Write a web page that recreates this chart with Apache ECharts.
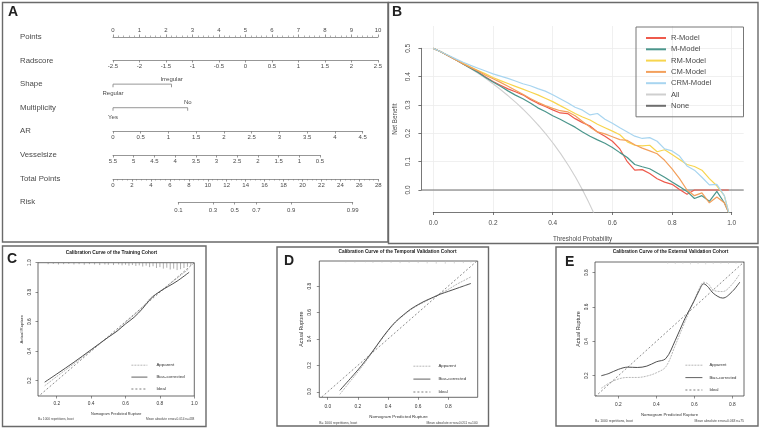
<!DOCTYPE html>
<html><head><meta charset="utf-8">
<script src="https://cdn.jsdelivr.net/npm/echarts@6.0.0/dist/echarts.min.js"></script>
<style>html,body{margin:0;padding:0;background:#fff;}#chart{width:761px;height:429px;}</style>
</head><body><div id="chart"></div>
<script>
// ---------- Panel A: nomogram ----------
const nomoRows = ['Points','Radscore','Shape','Multiplicity','AR','Vesselsize','Total Points','Risk'];
const pointsScale = [0, 10, 1];
const radscoreScale = [-2.5, 2.5, 0.5];
const arScale = [0, 4.5, 0.5];
const vesselScale = [0.5, 5.5, 0.5];
const totalScale = [0, 28, 2];
const shapeLevels = ['Regular', 'Irregular'];
const shapePoints = [0, 2.21];
const multiLevels = ['Yes', 'No'];
const multiPoints = [0, 2.82];
const riskTicks = [0.1, 0.3, 0.5, 0.7, 0.9, 0.99];

// ---------- Panel B: decision curves ----------
const dcaNames = ['R-Model','M-Model','RM-Model','CM-Model','CRM-Model','All','None'];
const dcaThresholds = [0,0.025,0.05,0.075,0.1,0.125,0.15,0.175,0.2,0.225,0.25,0.275,0.3,0.325,0.35,0.375,0.4,0.425,0.45,0.475,0.5,0.525,0.55,0.575,0.6,0.625,0.65,0.675,0.7,0.725,0.75,0.775,0.8,0.825,0.85,0.875,0.9,0.925,0.95,0.975,0.99];
const rModel = [.5,.488,.474,.460,.445,.431,.417,.399,.383,.370,.357,.347,.336,.320,.306,.295,.283,.272,.270,.252,.238,.226,.205,.190,.172,.145,.100,.070,.072,.058,.040,.028,.020,.002,-.015,0,0,0,0,0,0];
const mModel = [.5,.488,.474,.460,.445,.430,.415,.397,.381,.366,.350,.335,.322,.307,.290,.277,.262,.250,.236,.222,.205,.190,.177,.165,.150,.132,.115,.090,.082,.075,.060,.045,.028,.012,-.005,-.030,-.020,-.040,-.005,-.045,-.080];
const rmModel = [.5,.488,.475,.461,.447,.434,.422,.410,.397,.386,.376,.366,.356,.346,.336,.324,.312,.298,.284,.270,.258,.247,.232,.220,.208,.195,.170,.158,.156,.158,.135,.142,.125,.108,.090,.083,.070,.040,.015,-.020,-.080];
const cmModel = [.5,.488,.474,.460,.446,.433,.420,.405,.393,.380,.366,.352,.338,.323,.310,.298,.288,.280,.276,.262,.242,.222,.205,.198,.188,.178,.175,.160,.148,.138,.128,.105,.075,.040,.000,-.020,-.010,-.045,-.025,-.045,-.080];
const crmModel = [.5,.488,.476,.463,.451,.440,.430,.420,.410,.402,.394,.385,.375,.368,.358,.349,.336,.322,.308,.292,.282,.265,.270,.250,.236,.220,.205,.190,.182,.185,.172,.145,.138,.120,.085,.070,.045,.018,.020,-.020,-.080];
const allThresholds = [0,0.05,0.1,0.15,0.2,0.25,0.3,0.35,0.4,0.45,0.5,0.55];
const allModel = [.5,.474,.444,.412,.375,.333,.286,.231,.167,.091,0,-.111];
const noneThresholds = [-0.04, 1.04];
const noneModel = [0, 0];
const dcaXTicks = [0, 1, 0.2];
const dcaYTicks = [0, 0.5, 0.1];

// ---------- Panels C, D, E: calibration ----------
const calNames = ['Apparent', 'Bias-corrected', 'Ideal'];
const calCx = [0.13,0.2,0.3,0.4,0.5,0.55,0.6,0.65,0.7,0.75,0.8,0.85,0.9,0.97];
const calCapp = [0.165,0.228,0.315,0.405,0.495,0.54,0.595,0.645,0.7,0.765,0.805,0.85,0.895,0.96];
const calCbias = [0.19,0.245,0.325,0.41,0.495,0.535,0.585,0.63,0.69,0.76,0.805,0.84,0.875,0.935];
const calCideal = [0, 1];
const calCrug = [[0.15,.01],[0.18,.008],[0.21,.012],[0.24,.01],[0.27,.008],[0.3,.012],[0.33,.01],[0.36,.014],[0.39,.01],[0.42,.012],[0.45,.016],[0.48,.012],[0.5,.014],[0.53,.016],[0.56,.012],[0.58,.018],[0.6,.014],[0.62,.02],[0.64,.016],[0.66,.022],[0.68,.018],[0.7,.026],[0.72,.02],[0.74,.03],[0.76,.024],[0.78,.036],[0.8,.03],[0.82,.04],[0.84,.034],[0.86,.046],[0.88,.04],[0.9,.05],[0.92,.044],[0.94,.036],[0.96,.028],[0.98,.02]];
const calCticks = [0.2,0.4,0.6,0.8,1.0];
const calCnote = ['B= 1000 repetitions, boot', 'Mean absolute error=0.014 n=438'];

const calDx = [0.08,0.15,0.2,0.25,0.3,0.35,0.4,0.45,0.5,0.55,0.6,0.65,0.7,0.75,0.8,0.85,0.9,0.95];
const calDapp = [-0.02,0.08,0.15,0.225,0.305,0.385,0.46,0.525,0.575,0.62,0.655,0.685,0.715,0.745,0.775,0.81,0.84,0.87];
const calDbias = [0.01,0.1,0.165,0.235,0.31,0.39,0.465,0.53,0.58,0.625,0.66,0.69,0.715,0.74,0.76,0.78,0.8,0.82];
const calDideal = [-0.1, 1];
const calDrug = [[0.12,.01],[0.18,.012],[0.25,.01],[0.3,.014],[0.36,.012],[0.42,.014],[0.48,.016],[0.54,.014],[0.6,.016],[0.66,.018],[0.72,.02],[0.78,.02],[0.84,.018],[0.9,.016],[0.95,.012]];
const calDticks = [0,0.2,0.4,0.6,0.8];
const calDnote = ['B= 1000 repetitions, boot', 'Mean absolute error=0.051 n=100'];

const calEx = [0.11,0.15,0.2,0.25,0.3,0.35,0.4,0.45,0.5,0.55,0.6,0.625,0.65,0.675,0.7,0.75,0.8,0.84];
const calEapp = [0.127,0.156,0.181,0.19,0.19,0.198,0.217,0.252,0.377,0.512,0.64,0.704,0.744,0.733,0.698,0.69,0.733,0.794];
const calEbias = [0.2,0.213,0.237,0.25,0.248,0.256,0.281,0.3,0.406,0.531,0.637,0.694,0.735,0.714,0.68,0.652,0.69,0.745];
const calEideal = [0, 1];
const calErug = [[0.46,.01],[0.5,.012],[0.54,.01],[0.58,.014],[0.62,.012],[0.66,.014],[0.7,.012],[0.74,.01],[0.78,.012],[0.82,.01]];
const calEticks = [0.2,0.4,0.6,0.8];
const calEnote = ['B= 1000 repetitions, boot', 'Mean absolute error=0.063 n=75'];

const panelTitles = ['Calibration Curve of the Training Cohort', 'Calibration Curve of the Temporal Validation Cohort', 'Calibration Curve of the External Validation Cohort'];

// ---------- build ----------
const FONT = "'Liberation Sans', Arial, Helvetica, sans-serif";
const AX = '#7c7c7c', TX = '#4a4a4a';
const logit = p => Math.log(p / (1 - p));
const pairs = (xs, ys) => xs.map((x, i) => [x, ys[i]]);

function g(o) { return Object.assign({outerBoundsMode: 'none', containLabel: false}, o); }
const grids = [
  g({left:113, right:383, top:25.2, bottom:215.2}),            // 0 nomogram rows
  g({left:113, right:383, top:37, height:1}),                  // 1 points
  g({left:113, right:383, top:59, height:1}),                  // 2 radscore
  g({left:113, right:398.3, top:130, height:1}),               // 3 AR
  g({left:113, right:441, top:154, height:1}),                 // 4 vessel
  g({left:113, right:382.7, top:178, height:1}),               // 5 total
  g({left:178.3, right:408.3, top:201, height:1}),             // 6 risk
  g({left:421.4, right:17.3, top:26, bottom:217}),             // 7 dca data
  g({left:433.3, right:29.3, top:26, bottom:217}),             // 8 dca x
  g({left:421.4, right:17.3, top:48.3, bottom:239}),           // 9 dca y
  g({left:38, right:566.7, top:262.7, bottom:33, show:true, borderColor:'#444', borderWidth:0.8}),      // 10 C
  g({left:319.3, right:283.3, top:261, bottom:31.7, show:true, borderColor:'#444', borderWidth:0.8}),   // 11 D
  g({left:595, right:17, top:262, bottom:33, show:true, borderColor:'#444', borderWidth:0.8})           // 12 E
];

function hid(gridIndex, min, max) { return {gridIndex, type:'value', min, max, show:false}; }
function nomoX(gridIndex, sc, extra) {
  return Object.assign({
    gridIndex, type:'value', min: sc[0], max: sc[1], interval: sc[2], position:'bottom',
    axisLine:{show:true, onZero:false, lineStyle:{color:AX, width:0.8}},
    axisTick:{show:true, length:2.5, lineStyle:{color:AX, width:0.8}},
    axisLabel:{show:true, fontSize:6, color:TX, fontFamily:FONT, margin:3.5},
    splitLine:{show:false}
  }, extra || {});
}
const riskFmt = v => { let b = riskTicks[0]; riskTicks.forEach(t => { if (Math.abs(logit(t) - v) < Math.abs(logit(b) - v)) b = t; }); return String(b); };

function calX(gi, min, max, ticks, margin, gap, fs) {
  return {gridIndex:gi, type:'value', min, max, position:'bottom',
    axisLine:{show:false, onZero:false},
    axisTick:{show:true, length:2.5, customValues:ticks, lineStyle:{color:'#444', width:0.6}},
    axisLabel:{show:true, customValues:ticks, formatter:v => v.toFixed(1), fontSize:4.8, color:'#333', margin, fontFamily:FONT},
    splitLine:{show:false},
    name:'Nomogram Predicted Rupture', nameLocation:'middle', nameGap:gap, nameTextStyle:{fontSize:fs, color:'#333', fontFamily:FONT}};
}
function calY(gi, min, max, ticks, margin, gap, fs) {
  return {gridIndex:gi, type:'value', min, max, position:'left',
    axisLine:{show:false, onZero:false},
    axisTick:{show:true, length:2.5, customValues:ticks, lineStyle:{color:'#444', width:0.6}},
    axisLabel:{show:true, customValues:ticks, rotate:90, formatter:v => v.toFixed(1), fontSize:4.8, color:'#333', margin, fontFamily:FONT},
    splitLine:{show:false},
    name:'Actual Rupture', nameLocation:'middle', nameGap:gap, nameTextStyle:{fontSize:fs, color:'#333', fontFamily:FONT}};
}

const xAxes = [
  hid(0, pointsScale[0], pointsScale[1]),
  nomoX(1, pointsScale, {position:'top', minorTick:{show:true, splitNumber:5, length:1.5, lineStyle:{color:AX, width:0.6}}}),
  nomoX(2, radscoreScale),
  nomoX(3, arScale),
  nomoX(4, vesselScale, {inverse:true}),
  nomoX(5, totalScale, {minorTick:{show:true, splitNumber:4, length:1.5, lineStyle:{color:AX, width:0.6}}}),
  nomoX(6, [logit(riskTicks[0]), logit(riskTicks[riskTicks.length-1]), null], {
    interval: undefined,
    axisTick:{show:true, length:2.5, customValues: riskTicks.map(logit), lineStyle:{color:AX, width:0.8}},
    axisLabel:{show:true, customValues: riskTicks.map(logit), formatter: riskFmt, fontSize:6, color:TX, fontFamily:FONT, margin:5.5}
  }),
  hid(7, -0.04, 1.04),
  {gridIndex:8, type:'value', min:dcaXTicks[0], max:dcaXTicks[1], interval:dcaXTicks[2], position:'bottom',
    axisLine:{show:true, onZero:false, lineStyle:{color:'#555', width:0.8}},
    axisTick:{show:true, length:3, lineStyle:{color:'#555', width:0.8}},
    axisLabel:{fontSize:6.5, color:TX, fontFamily:FONT, margin:7.5, formatter:v => v.toFixed(1)},
    splitLine:{show:true, lineStyle:{color:'#ececec', width:0.8}},
    name:'Threshold Probability', nameLocation:'middle', nameGap:23.8, nameTextStyle:{fontSize:6.3, color:TX, fontFamily:FONT}},
  hid(9, 0, 1),
  calX(10, 0.091, 1.0, calCticks, 4.8, 15.5, 3.8),
  calX(11, -0.056, 0.995, calDticks, 7.2, 17.2, 4.4),
  calX(12, 0.077, 0.862, calEticks, 5.8, 16.5, 4.3)
];
const yAxes = [
  {gridIndex:0, type:'category', data:nomoRows, inverse:true,
    axisLine:{show:false}, axisTick:{show:false}, splitLine:{show:false},
    axisLabel:{show:true, align:'left', margin:93, fontSize:7.8, color:TX, fontFamily:FONT}},
  hid(1,0,1), hid(2,0,1), hid(3,0,1), hid(4,0,1), hid(5,0,1), hid(6,0,1),
  hid(7, -0.0776, 0.579),
  hid(8, 0, 1),
  {gridIndex:9, type:'value', min:dcaYTicks[0], max:dcaYTicks[1], interval:dcaYTicks[2], position:'left',
    axisLine:{show:true, onZero:false, lineStyle:{color:'#555', width:0.8}},
    axisTick:{show:true, length:3, lineStyle:{color:'#555', width:0.8}},
    axisLabel:{fontSize:6.5, color:TX, fontFamily:FONT, margin:10, rotate:90, formatter:v => v.toFixed(1)},
    splitLine:{show:true, lineStyle:{color:'#ececec', width:0.8}},
    name:'Net Benefit', nameLocation:'middle', nameGap:23.2, nameTextStyle:{fontSize:6.3, color:TX, fontFamily:FONT}},
  calY(10, 0.096, 1.0, calCticks, 5.8, 14.5, 4.3),
  calY(11, -0.042, 0.99, calDticks, 7, 15.1, 5.3),
  calY(12, 0.082, 0.862, calEticks, 5.5, 13.5, 5.4)
];

function levelSeries(name, levels, pts) {
  return {type:'line', name, xAxisIndex:0, yAxisIndex:0, silent:true,
    symbol:'rect', symbolSize:[0.8, 3], symbolOffset:[0, 1.5],
    itemStyle:{color:AX}, lineStyle:{color:AX, width:0.8},
    data: levels.map((lv, i) => ({value:[pts[i], name],
      label:{show:true, position: i === 0 ? 'bottom' : 'top', distance: i === 0 ? 3.5 : 2, formatter: lv, fontSize:6, color:TX, fontFamily:FONT}}))};
}

const dcaColors = ['#ee5a4c', '#4b968c', '#f7d54e', '#f3a05c', '#a8d5f0', '#cfcfcf', '#6e6e6e'];
const dcaVals = [rModel, mModel, rmModel, cmModel, crmModel];
const series = [
  levelSeries('Shape', shapeLevels, shapePoints),
  levelSeries('Multiplicity', multiLevels, multiPoints),
  {type:'line', name:'All', xAxisIndex:7, yAxisIndex:7, symbol:'none', smooth:true, data:pairs(allThresholds, allModel), lineStyle:{color:dcaColors[5], width:1.1}, itemStyle:{color:dcaColors[5]}},
  {type:'line', name:'None', xAxisIndex:7, yAxisIndex:7, symbol:'none', data:pairs(noneThresholds, noneModel), lineStyle:{color:dcaColors[6], width:1.1}, itemStyle:{color:dcaColors[6]}}
];
dcaVals.forEach((vals, i) => series.push({type:'line', name:dcaNames[i], xAxisIndex:7, yAxisIndex:7, symbol:'none',
  data:pairs(dcaThresholds, vals), lineStyle:{color:dcaColors[i], width:1.2}, itemStyle:{color:dcaColors[i]}}));

function rug(gi, data, yTop, color) {
  return {type:'custom', xAxisIndex:gi, yAxisIndex:gi, silent:true, data,
    renderItem:(params, api) => {
      const a = api.coord([api.value(0), yTop]);
      const b = api.coord([api.value(0), yTop - api.value(1)]);
      return {type:'line', shape:{x1:a[0], y1:a[1], x2:b[0], y2:b[1]}, style:{stroke:color, lineWidth:0.6}};
    }};
}
function calSeries(gi, xs, app, bias, ideal, rugData, yTop, rugColor) {
  return [
    {type:'line', name:calNames[0], xAxisIndex:gi, yAxisIndex:gi, symbol:'none', smooth:0.35, data:pairs(xs, app),
      lineStyle:{color:'#a5a5a5', width:0.8, type:[2,1]}, itemStyle:{color:'#a5a5a5'}},
    {type:'line', name:calNames[1], xAxisIndex:gi, yAxisIndex:gi, symbol:'none', smooth:0.35, data:pairs(xs, bias),
      lineStyle:{color:'#3a3a3a', width:0.9}, itemStyle:{color:'#3a3a3a'}},
    {type:'line', name:calNames[2], xAxisIndex:gi, yAxisIndex:gi, symbol:'none', data:pairs(ideal, ideal),
      lineStyle:{color:'#5a5a5a', width:0.7, type:[2,2]}, itemStyle:{color:'#5a5a5a'}},
    rug(gi, rugData, yTop, rugColor)
  ];
}
series.push(...calSeries(10, calCx, calCapp, calCbias, calCideal, calCrug, 1.0, '#777'));
series.push(...calSeries(11, calDx, calDapp, calDbias, calDideal, calDrug, 0.99, '#bbb'));
series.push(...calSeries(12, calEx, calEapp, calEbias, calEideal, calErug, 0.862, '#c4c4c4'));

const legendBase = {orient:'vertical', selectedMode:false, itemHeight:8, padding:0, itemStyle:{opacity:0}, lineStyle:{opacity:1, width:0.8}};
const legends = [
  {data:dcaNames, orient:'vertical', selectedMode:false, left:636, top:27, padding:[6,32,6,9],
    itemWidth:20, itemHeight:10, itemGap:1.3, borderColor:'#777', borderWidth:1,
    itemStyle:{opacity:0}, lineStyle:{width:2, opacity:1}, textStyle:{fontSize:7.6, color:TX, fontFamily:FONT, lineHeight:10}},
  Object.assign({}, legendBase, {data:calNames, left:131, top:362, itemWidth:16, itemGap:5.5, textStyle:{fontSize:4.4, color:'#333', fontFamily:FONT, padding:[0,0,0,4]}}),
  Object.assign({}, legendBase, {data:calNames, left:413, top:363, itemWidth:17, itemGap:6.5, textStyle:{fontSize:4.3, color:'#333', fontFamily:FONT, padding:[0,0,0,3]}}),
  Object.assign({}, legendBase, {data:calNames, left:685, top:362, itemWidth:17, itemGap:6, textStyle:{fontSize:4.2, color:'#333', fontFamily:FONT, padding:[0,0,0,2]}})
];

function txt(text, x, y, size, weight, align, color) {
  return {type:'text', silent:true, style:{text, x, y, fontSize:size, fontWeight:weight || 'normal', fontFamily:FONT,
    fill:color || '#222', align:align || 'left', verticalAlign:'middle', textAlign:align || 'left', textVerticalAlign:'middle'}};
}
function box(x, y, w, h) {
  return {type:'rect', silent:true, shape:{x, y, width:w, height:h}, style:{fill:'none', stroke:'#6a6a6a', lineWidth:1.4}};
}
const graphic = [
  box(2.5, 2.5, 385.5, 239.5), box(388.5, 2.5, 369.5, 241), box(2.5, 246, 203.5, 180.5), box(277, 247, 211.5, 179), box(556, 247, 202, 179),
  txt('A', 8, 12.5, 14, 'bold'), txt('B', 392, 12.5, 14, 'bold'), txt('C', 7, 259.5, 14, 'bold'), txt('D', 284, 261.5, 14, 'bold'), txt('E', 565, 262.5, 14, 'bold'),
  txt(panelTitles[0], 111.5, 252.5, 4.8, 'bold', 'center'),
  txt(panelTitles[1], 397.5, 252, 4.8, 'bold', 'center'),
  txt(panelTitles[2], 670.5, 252, 4.8, 'bold', 'center'),
  txt(calCnote[0], 38, 419.3, 3.2, 'normal', 'left', '#444'), txt(calCnote[1], 194.3, 419.3, 3.2, 'normal', 'right', '#444'),
  txt(calDnote[0], 319.3, 423.3, 3.4, 'normal', 'left', '#444'), txt(calDnote[1], 477.7, 423.3, 3.4, 'normal', 'right', '#444'),
  txt(calEnote[0], 595, 420.7, 3.4, 'normal', 'left', '#444'), txt(calEnote[1], 744, 420.7, 3.4, 'normal', 'right', '#444')
];

const chart = echarts.init(document.getElementById('chart'), null, {renderer:'canvas', width:761, height:429});
chart.setOption({
  animation:false, backgroundColor:'#ffffff', textStyle:{fontFamily:FONT},
  grid:grids, xAxis:xAxes, yAxis:yAxes, series, legend:legends, graphic
});
</script></body></html>
